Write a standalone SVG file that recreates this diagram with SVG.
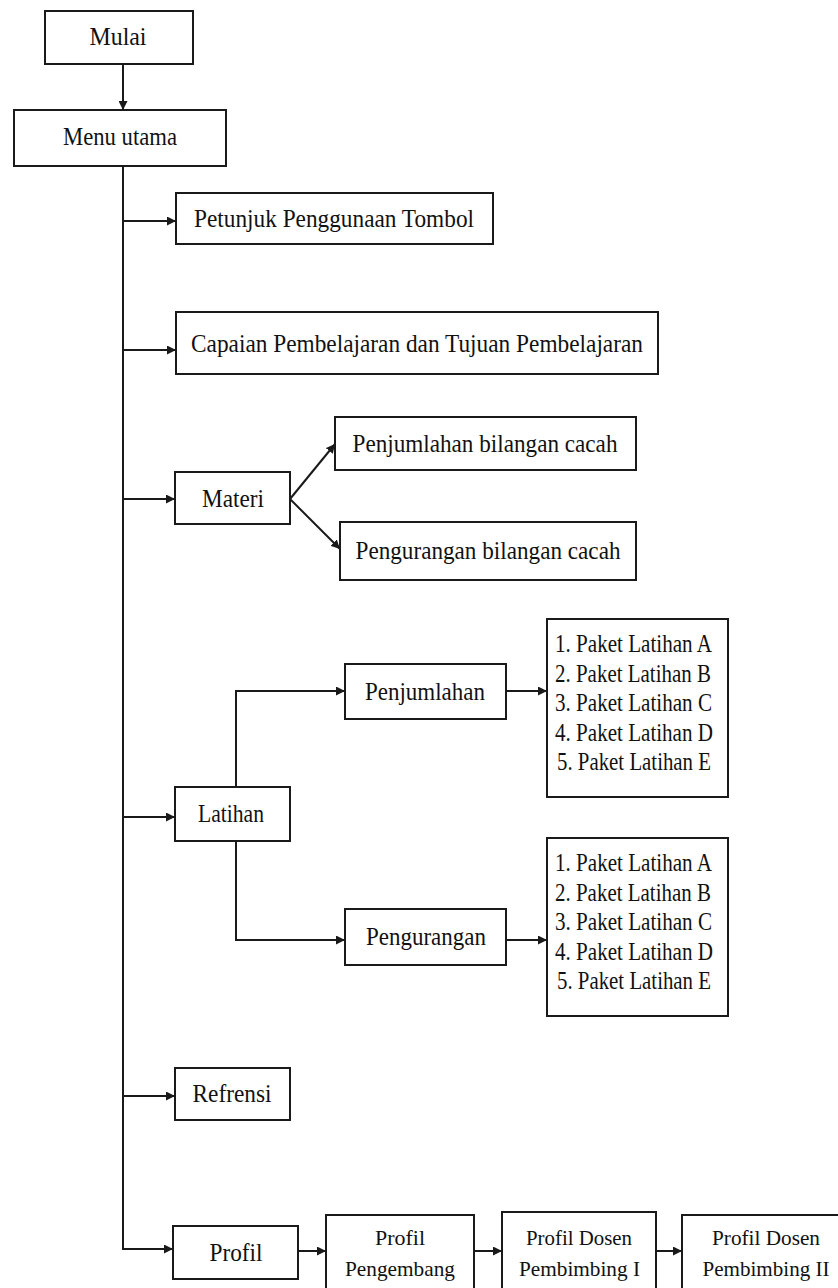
<svg xmlns="http://www.w3.org/2000/svg" width="838" height="1288" viewBox="0 0 838 1288">
<style>
.box{fill:#fff;stroke:#1a1a1a;stroke-width:2}
.t{font-family:'Liberation Serif','Times New Roman',serif;font-size:26px;fill:#111;text-anchor:middle}
.ts{font-family:'Liberation Serif','Times New Roman',serif;font-size:21px;fill:#111;text-anchor:middle}
.tl{font-family:'Liberation Serif','Times New Roman',serif;font-size:26px;fill:#111}
.c{fill:none;stroke:#1a1a1a;stroke-width:2}
</style>
<defs>
<marker id="ah" viewBox="0 0 10 10" refX="10" refY="5" markerUnits="userSpaceOnUse" markerWidth="9" markerHeight="9" orient="auto">
<path d="M0,0 L10,5 L0,10 z" fill="#1a1a1a"/>
</marker>
</defs>
<rect width="838" height="1288" fill="#fff"/>
<g id="connectors">
<path class="c" d="M123,64 V110" marker-end="url(#ah)"/>
<path class="c" d="M123,166 V1249 H173" marker-end="url(#ah)"/>
<path class="c" d="M123,221 H176" marker-end="url(#ah)"/>
<path class="c" d="M123,350 H176" marker-end="url(#ah)"/>
<path class="c" d="M123,499 H175" marker-end="url(#ah)"/>
<path class="c" d="M123,817 H175" marker-end="url(#ah)"/>
<path class="c" d="M123,1096 H175" marker-end="url(#ah)"/>
<path class="c" d="M290,499 L335,444" marker-end="url(#ah)"/>
<path class="c" d="M290,499 L340,549" marker-end="url(#ah)"/>
<path class="c" d="M236,787 V691 H345" marker-end="url(#ah)"/>
<path class="c" d="M236,841 V940 H345" marker-end="url(#ah)"/>
<path class="c" d="M506,691 H547" marker-end="url(#ah)"/>
<path class="c" d="M506,940 H547" marker-end="url(#ah)"/>
<path class="c" d="M298,1251 H326" marker-end="url(#ah)"/>
<path class="c" d="M474,1251 H502" marker-end="url(#ah)"/>
<path class="c" d="M656,1251 H682" marker-end="url(#ah)"/>
</g>
<g id="mulai"><rect class="box" x="45" y="11" width="148" height="53"/><text class="t" x="118" y="45" textLength="57" lengthAdjust="spacingAndGlyphs">Mulai</text></g>
<g id="menu-utama"><rect class="box" x="14" y="110" width="212" height="56"/><text class="t" x="120" y="145" textLength="114" lengthAdjust="spacingAndGlyphs">Menu utama</text></g>
<g id="petunjuk"><rect class="box" x="176" y="193" width="317" height="51"/><text class="t" x="334" y="227" textLength="280" lengthAdjust="spacingAndGlyphs">Petunjuk Penggunaan Tombol</text></g>
<g id="capaian"><rect class="box" x="176" y="312" width="482" height="62"/><text class="t" x="417" y="352" textLength="452" lengthAdjust="spacingAndGlyphs">Capaian Pembelajaran dan Tujuan Pembelajaran</text></g>
<g id="materi"><rect class="box" x="175" y="472" width="115" height="52"/><text class="t" x="233" y="507" textLength="62" lengthAdjust="spacingAndGlyphs">Materi</text></g>
<g id="penjumlahan-bilangan"><rect class="box" x="335" y="417" width="301" height="53"/><text class="t" x="485" y="452" textLength="265" lengthAdjust="spacingAndGlyphs">Penjumlahan bilangan cacah</text></g>
<g id="pengurangan-bilangan"><rect class="box" x="340" y="522" width="296" height="58"/><text class="t" x="488" y="559" textLength="265" lengthAdjust="spacingAndGlyphs">Pengurangan bilangan cacah</text></g>
<g id="latihan"><rect class="box" x="175" y="787" width="115" height="54"/><text class="t" x="231" y="822" textLength="66" lengthAdjust="spacingAndGlyphs">Latihan</text></g>
<g id="penjumlahan"><rect class="box" x="345" y="664" width="161" height="55"/><text class="t" x="425" y="700" textLength="120" lengthAdjust="spacingAndGlyphs">Penjumlahan</text></g>
<g id="pengurangan"><rect class="box" x="345" y="909" width="161" height="56"/><text class="t" x="426" y="945" textLength="120" lengthAdjust="spacingAndGlyphs">Pengurangan</text></g>
<g id="paket-penjumlahan"><rect class="box" x="547" y="619" width="181" height="178"/>
<text class="tl" x="555" y="652" textLength="157" lengthAdjust="spacingAndGlyphs">1. Paket Latihan A</text>
<text class="tl" x="555" y="681.5" textLength="156" lengthAdjust="spacingAndGlyphs">2. Paket Latihan B</text>
<text class="tl" x="555" y="711" textLength="157" lengthAdjust="spacingAndGlyphs">3. Paket Latihan C</text>
<text class="tl" x="555" y="740.5" textLength="158" lengthAdjust="spacingAndGlyphs">4. Paket Latihan D</text>
<text class="tl" x="557" y="770" textLength="154" lengthAdjust="spacingAndGlyphs">5. Paket Latihan E</text>
</g>
<g id="paket-pengurangan"><rect class="box" x="547" y="838" width="181" height="178"/>
<text class="tl" x="555" y="871" textLength="157" lengthAdjust="spacingAndGlyphs">1. Paket Latihan A</text>
<text class="tl" x="555" y="900.5" textLength="156" lengthAdjust="spacingAndGlyphs">2. Paket Latihan B</text>
<text class="tl" x="555" y="930" textLength="157" lengthAdjust="spacingAndGlyphs">3. Paket Latihan C</text>
<text class="tl" x="555" y="959.5" textLength="158" lengthAdjust="spacingAndGlyphs">4. Paket Latihan D</text>
<text class="tl" x="557" y="989" textLength="154" lengthAdjust="spacingAndGlyphs">5. Paket Latihan E</text>
</g>
<g id="refrensi"><rect class="box" x="175" y="1068" width="115" height="52"/><text class="t" x="232" y="1102" textLength="79" lengthAdjust="spacingAndGlyphs">Refrensi</text></g>
<g id="profil"><rect class="box" x="173" y="1226" width="125" height="53"/><text class="t" x="236" y="1261" textLength="53" lengthAdjust="spacingAndGlyphs">Profil</text></g>
<g id="profil-pengembang"><rect class="box" x="326" y="1215" width="148" height="90"/><text class="ts" x="400" y="1245" textLength="50" lengthAdjust="spacingAndGlyphs">Profil</text><text class="ts" x="400" y="1276" textLength="110" lengthAdjust="spacingAndGlyphs">Pengembang</text></g>
<g id="profil-dosen-1"><rect class="box" x="502" y="1212" width="154" height="93"/><text class="ts" x="579" y="1245" textLength="106" lengthAdjust="spacingAndGlyphs">Profil Dosen</text><text class="ts" x="579.5" y="1276" textLength="121" lengthAdjust="spacingAndGlyphs">Pembimbing I</text></g>
<g id="profil-dosen-2"><rect class="box" x="682" y="1215" width="170" height="90"/><text class="ts" x="766" y="1245" textLength="108" lengthAdjust="spacingAndGlyphs">Profil Dosen</text><text class="ts" x="766" y="1276" textLength="127" lengthAdjust="spacingAndGlyphs">Pembimbing II</text></g>
</svg>
